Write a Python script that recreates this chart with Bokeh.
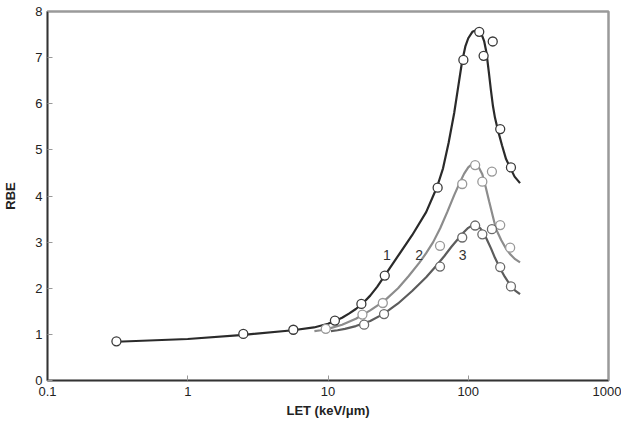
from bokeh.plotting import figure
from bokeh.models import FixedTicker, Range1d
from bokeh.embed import file_html
from bokeh.resources import INLINE
from bokeh.core.properties import value

# ---- data ----
# measured points (LET keV/um, RBE)
c1_let = [0.31, 2.49, 5.66, 11.2, 17.3, 25.4, 60.5, 92.3, 119.8, 128.7, 149.5, 169, 201.6]
c1_rbe = [0.85, 1.01, 1.10, 1.30, 1.66, 2.275, 4.18, 6.95, 7.56, 7.04, 7.35, 5.45, 4.62]
c2_let = [9.64, 17.6, 24.6, 62.9, 90.6, 112, 126, 147.5, 169, 199]
c2_rbe = [1.12, 1.43, 1.68, 2.92, 4.26, 4.67, 4.31, 4.53, 3.37, 2.88]
c3_let = [18.1, 25.1, 62.9, 90.6, 112, 126, 147.5, 169, 201.6]
c3_rbe = [1.21, 1.44, 2.47, 3.10, 3.36, 3.17, 3.28, 2.46, 2.04]

# fitted curves
f1_let = [0.31, 1.0, 2.51, 5.62, 7.94, 10.0, 11.2, 12.6, 14.1, 15.8, 17.8, 20.0, 22.4,
          25.1, 31.6, 39.8, 50.1, 60.0, 66.1, 72.4, 79.4, 85.1, 90.2, 95.5, 100, 107,
          115, 123, 130, 135, 140, 145, 150, 155, 162, 174, 186, 200, 214, 234]
f1_rbe = [0.84, 0.90, 0.99, 1.09, 1.15, 1.23, 1.29, 1.36, 1.45, 1.55, 1.68, 1.84, 2.03,
          2.25, 2.70, 3.15, 3.65, 4.20, 4.60, 5.15, 5.80, 6.40, 6.90, 7.25, 7.42, 7.56,
          7.60, 7.55, 7.35, 7.10, 6.70, 6.30, 5.95, 5.70, 5.45, 5.10, 4.80, 4.60, 4.42,
          4.28]
f2_let = [8.0, 8.91, 10.0, 12.6, 15.8, 20.0, 25.1, 31.6, 37.5, 44.7, 50.1, 56.2, 63.1,
          70.8, 79.4, 87.3, 93.3, 100, 107, 112, 119, 126, 133, 141, 150, 158, 172, 186,
          200, 216, 234]
f2_rbe = [1.07, 1.09, 1.12, 1.21, 1.34, 1.52, 1.72, 2.00, 2.26, 2.55, 2.76, 3.00, 3.30,
          3.65, 4.02, 4.30, 4.48, 4.62, 4.70, 4.69, 4.62, 4.47, 4.20, 3.88, 3.55, 3.28,
          3.04, 2.86, 2.73, 2.63, 2.56]
f3_let = [10.5, 11.7, 13.2, 15.8, 20.0, 25.1, 31.6, 39.8, 50.1, 59.6, 67.6, 75.9, 85.1,
          93.3, 100, 108, 115, 122, 129, 136, 145, 155, 169, 182, 200, 216, 234]
f3_rbe = [1.07, 1.09, 1.12, 1.18, 1.29, 1.45, 1.67, 1.94, 2.24, 2.50, 2.70, 2.90, 3.08,
          3.22, 3.31, 3.37, 3.36, 3.30, 3.20, 3.05, 2.87, 2.66, 2.43, 2.25, 2.06, 1.95,
          1.87]

curve_labels = ["1", "2", "3"]
label_let = [26.3, 44.6, 91.2]
label_rbe = [2.72, 2.72, 2.72]

x_ticks = [0.1, 1, 10, 100, 1000]
x_tick_labels = ["0.1", "1", "10", "100", "1000"]
y_ticks = [0, 1, 2, 3, 4, 5, 6, 7, 8]

FONT = "Liberation Sans"

p = figure(width=621, height=425, x_axis_type="log",
           x_range=Range1d(0.1, 1000), y_range=Range1d(0, 8),
           output_backend="svg", toolbar_location=None,
           min_border_left=47, min_border_right=13, min_border_top=11,
           min_border_bottom=45)
p.grid.visible = False
p.outline_line_color = "#9a9a9a"
p.outline_line_width = 2.5
p.background_fill_color = "white"
p.border_fill_color = "white"

for ax in (p.xaxis[0], p.yaxis[0]):
    ax.axis_line_color = "#333333"
    ax.axis_line_width = 1.5
    ax.major_tick_in = 5
    ax.major_tick_out = 0
    ax.major_tick_line_color = "#999999"
    ax.minor_tick_line_color = None
    ax.major_label_text_font = FONT
    ax.major_label_text_font_size = "13px"
    ax.major_label_text_color = "#222222"
    ax.axis_label_text_font = FONT
    ax.axis_label_text_font_size = "13px"
    ax.axis_label_text_font_style = "bold"
    ax.axis_label_text_color = "#222222"

p.xaxis.ticker = FixedTicker(ticks=x_ticks)
p.xaxis.major_label_overrides = {t: s for t, s in zip(x_ticks, x_tick_labels)}
p.xaxis.axis_label = "LET (keV/\u03bcm)"
p.xaxis.major_label_standoff = 6
p.xaxis.axis_label_standoff = 4
p.yaxis.ticker = FixedTicker(ticks=y_ticks)
p.yaxis.axis_label = "RBE"
p.yaxis.major_label_standoff = 5
p.yaxis.axis_label_standoff = 14

p.line(f2_let, f2_rbe, line_color="#8c8c8c", line_width=2.2)
p.line(f3_let, f3_rbe, line_color="#5c5c5c", line_width=2.2)
p.line(f1_let, f1_rbe, line_color="#2a2a2a", line_width=2.2)

p.scatter(c2_let, c2_rbe, marker="circle", size=9, fill_color="white",
          line_color="#999999", line_width=1.3)
p.scatter(c3_let, c3_rbe, marker="circle", size=9, fill_color="white",
          line_color="#6a6a6a", line_width=1.3)
p.scatter(c1_let, c1_rbe, marker="circle", size=9, fill_color="white",
          line_color="#3a3a3a", line_width=1.3)

p.text(label_let, label_rbe, text=curve_labels, text_font=value(FONT),
       text_font_size="14px", text_color="#333333", text_align="center",
       text_baseline="middle")

open("out.html", "w").write(file_html(p, INLINE))
